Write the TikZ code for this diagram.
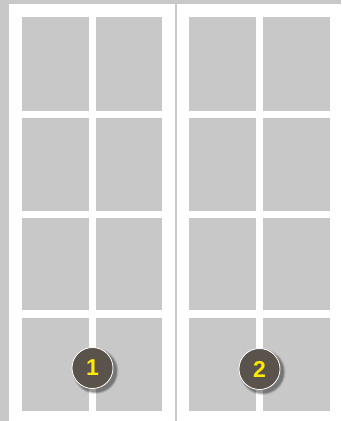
\documentclass[tikz,border=0pt]{standalone}
\usepackage{fontspec}
\setmainfont{Liberation Sans}
\definecolor{bggray}{HTML}{C8C8C8}
\definecolor{badge}{HTML}{5A534C}
\definecolor{numyellow}{HTML}{FFEA00}
\tikzset{
  pane/.style={fill=bggray, draw=none},
  badgenode/.style={circle, minimum size=41pt, inner sep=0pt, fill=badge, draw=white, line width=0.8pt,
    text=numyellow, font=\bfseries\fontsize{23}{23}\selectfont},
  softshadow/.style={fill=black, opacity=0.12}
}
\newcommand{\badgeshadow}[2]{%
  \foreach \r in {23,22,21.5,21}{
    \fill[softshadow] (#1+3,#2+3) circle (\r);
  }
}
\begin{document}
\begin{tikzpicture}[x=1pt,y=-1pt]
\useasboundingbox (0,0) rectangle (341,421);
\fill[bggray] (0,0) rectangle (341,421);
\fill[white] (9,4) rectangle (341,421);
% divider between windows
\fill[bggray] (175,4) rectangle (177,421);
% panes
\foreach \ya/\yb in {17/111, 118/211, 218/310, 318/411}{
  \foreach \xa/\xb in {22/89, 96/162, 189/256, 263/330}{
    \fill[pane] (\xa,\ya) rectangle (\xb,\yb);
  }
}
\badgeshadow{92.5}{368}
\badgeshadow{259.5}{369}
\node[badgenode] (c1) at (92.5,368) {1};
\node[badgenode] (c2) at (259.5,369) {2};
\end{tikzpicture}
\end{document}
